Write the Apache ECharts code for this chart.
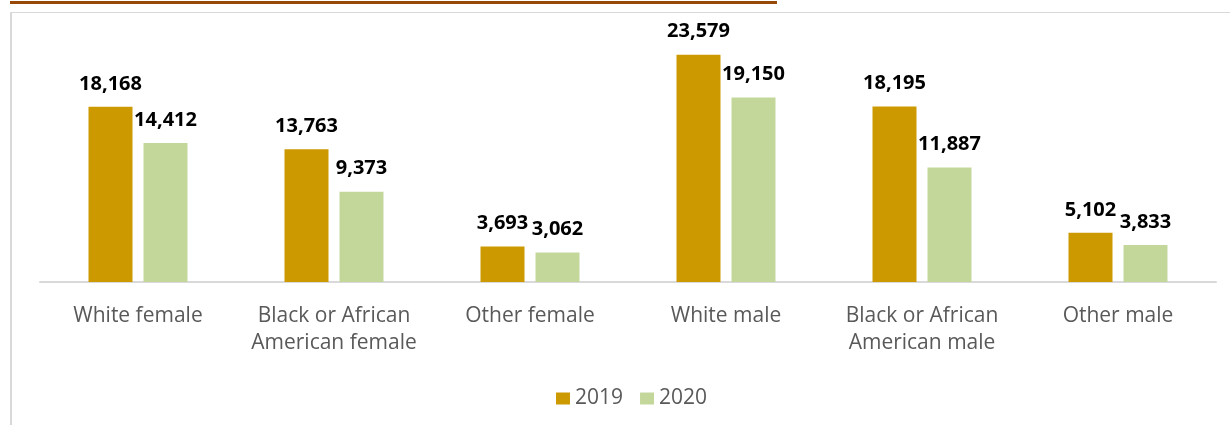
<!DOCTYPE html>
<html>
<head>
    <meta charset="UTF-8">
    <title>2019 vs 2020</title>
    <script src="https://cdn.jsdelivr.net/npm/echarts@6/dist/echarts.min.js"></script>
    <style>
        html, body { margin: 0; padding: 0; background: #fff; }
        #chart { width: 1230px; height: 425px; }
    </style>
</head>
<body>
<div id="chart"></div>
<script>
    // data
    var categories = ['White female', 'Black or African\nAmerican female', 'Other female',
        'White male', 'Black or African\nAmerican male', 'Other male'];
    var seriesNames = ['2019', '2020'];
    var values2019 = [18168, 13763, 3693, 23579, 18195, 5102];
    var values2020 = [14412, 9373, 3062, 19150, 11887, 3833];

    var font = '"Open Sans", "Liberation Sans", sans-serif';
    var myChart = echarts.init(document.getElementById('chart'));

    function barSeries(name, data, color) {
        return {
            name: name,
            type: 'bar',
            data: data,
            barWidth: 44,
            barGap: '25%',
            itemStyle: { color: color },
            label: {
                show: true,
                position: 'top',
                distance: 13,
                color: '#000',
                fontFamily: font,
                fontWeight: 'bold',
                fontSize: 20,
                formatter: function (p) {
                    return p.value.toLocaleString('en-US');
                }
            }
        };
    }

    var option = {
        animation: false,
        textStyle: { fontFamily: font },
        graphic: [
            // brown rule at the very top
            { type: 'rect', shape: { x: 10, y: 1, width: 767, height: 3 }, style: { fill: '#984807' } },
            // light grey frame, top and left
            { type: 'rect', shape: { x: 10, y: 12, width: 1220, height: 1 }, style: { fill: '#d9d9d9' } },
            { type: 'rect', shape: { x: 10, y: 12, width: 2, height: 413 }, style: { fill: '#d9d9d9' } }
        ],
        legend: {
            data: seriesNames,
            top: 383,
            left: 551,
            itemWidth: 14,
            itemHeight: 12,
            itemGap: 17,
            icon: 'rect',
            textStyle: { color: '#595959', fontSize: 21, fontFamily: font }
        },
        grid: { left: 40, right: 14, top: 41, bottom: 143 },
        xAxis: {
            type: 'category',
            data: categories,
            axisLine: { lineStyle: { color: '#d9d9d9', width: 2 } },
            axisTick: { show: false },
            axisLabel: {
                interval: 0,
                margin: 21,
                color: '#595959',
                fontSize: 21,
                lineHeight: 27,
                fontFamily: font
            }
        },
        yAxis: {
            type: 'value',
            min: 0,
            max: 25000,
            show: false,
            splitLine: { show: false }
        },
        series: [
            barSeries(seriesNames[0], values2019, '#cc9900'),
            barSeries(seriesNames[1], values2020, '#c4d79b')
        ]
    };
    myChart.setOption(option);
</script>
</body>
</html>
